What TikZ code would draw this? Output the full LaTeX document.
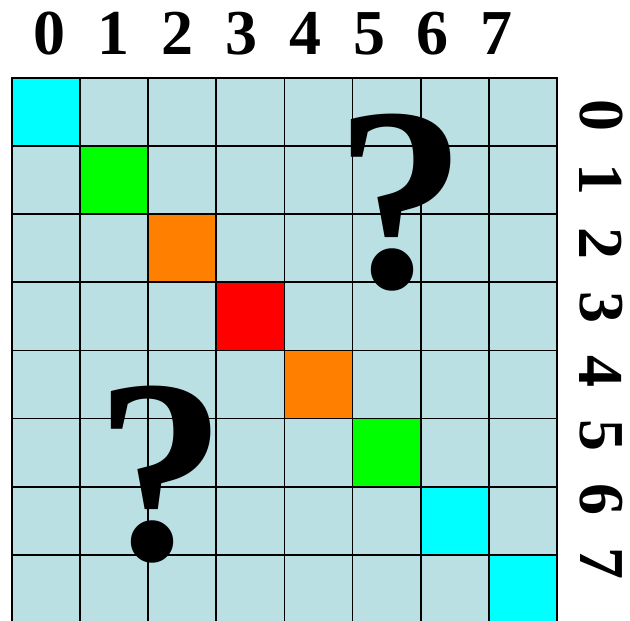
\documentclass[tikz,border=0pt]{standalone}
\usepackage{fontspec}
\setmainfont{Liberation Serif}

\begin{document}
\begin{tikzpicture}[
    x=1pt, y=-1pt,
    every node/.style={inner sep=0pt},
    % Estilo de los índices (números en negrita)
    indice/.style={font=\bfseries\fontsize{64}{64}\selectfont},
    % Índices de fila (girados)
    indiceFila/.style={indice, rotate=-90},
    % Estilo para los signos de interrogación
    pregunta/.style={font=\bfseries\fontsize{262}{262}\selectfont},
    % Estilo de las líneas de la rejilla
    lineaRejilla/.style={line width=1.8pt, black, line cap=rect}
]
    % --- CONFIGURACIÓN DE PARÁMETROS ---
    \def\xo{12}
    \def\yo{78}
    \def\celda{68.1}
    \def\lado{544.8}

    % --- DEFINICIÓN DE COLORES ---
    \definecolor{celeste}{RGB}{187, 224, 227}
    \definecolor{cianCelda}{RGB}{0, 255, 255}
    \definecolor{verdeCelda}{RGB}{0, 255, 0}
    \definecolor{naranjaCelda}{RGB}{255, 128, 0}
    \definecolor{rojoCelda}{RGB}{255, 0, 0}

    \useasboundingbox (0,0) rectangle (630,621);
    \clip (0,0) rectangle (630,621);

    % 1. FONDO DE LA MATRIZ
    \fill[celeste] (\xo,\yo) rectangle ++(\lado,\lado);

    % 2. DIAGONAL
    \fill[cianCelda] (\xo,\yo) rectangle ++(\celda,\celda);
    \fill[verdeCelda] (\xo+\celda,\yo+\celda) rectangle ++(\celda,\celda);
    \fill[naranjaCelda] (\xo+2*\celda,\yo+2*\celda) rectangle ++(\celda,\celda);
    \fill[rojoCelda] (\xo+3*\celda,\yo+3*\celda) rectangle ++(\celda,\celda);
    \fill[naranjaCelda] (\xo+4*\celda,\yo+4*\celda) rectangle ++(\celda,\celda);
    \fill[verdeCelda] (\xo+5*\celda,\yo+5*\celda) rectangle ++(\celda,\celda);
    \fill[cianCelda] (\xo+6*\celda,\yo+6*\celda) rectangle ++(\celda,\celda);
    \fill[cianCelda] (\xo+7*\celda,\yo+7*\celda) rectangle ++(\celda,\celda);

    % 3. REJILLA
    \foreach \i in {0,...,8} {
        \draw[lineaRejilla] (\xo+\i*\celda,\yo) -- ++(0,\lado);
        \draw[lineaRejilla] (\xo,\yo+\i*\celda) -- ++(\lado,0);
    }

    % 4. ÍNDICES DE COLUMNA
    \node[indice] (col0) at (50,33.5) {0};
    \node[indice] (col1) at (113.8,33.5) {1};
    \node[indice] (col2) at (177.6,33.5) {2};
    \node[indice] (col3) at (241.4,33.5) {3};
    \node[indice] (col4) at (305.2,33.5) {4};
    \node[indice] (col5) at (369,33.5) {5};
    \node[indice] (col6) at (432.8,33.5) {6};
    \node[indice] (col7) at (496.6,33.5) {7};

    % 5. ÍNDICES DE FILA
    \node[indiceFila] (fila0) at (601,115) {0};
    \node[indiceFila] (fila1) at (601,179) {1};
    \node[indiceFila] (fila2) at (601,243) {2};
    \node[indiceFila] (fila3) at (601,307) {3};
    \node[indiceFila] (fila4) at (601,371) {4};
    \node[indiceFila] (fila5) at (601,435) {5};
    \node[indiceFila] (fila6) at (601,499) {6};
    \node[indiceFila] (fila7) at (601,563) {7};

    % 6. INTERROGACIONES
    \node[pregunta] (pregArriba) at (401,203) {?};
    \node[pregunta] (pregAbajo) at (161,475) {?};

\end{tikzpicture}
\end{document}
